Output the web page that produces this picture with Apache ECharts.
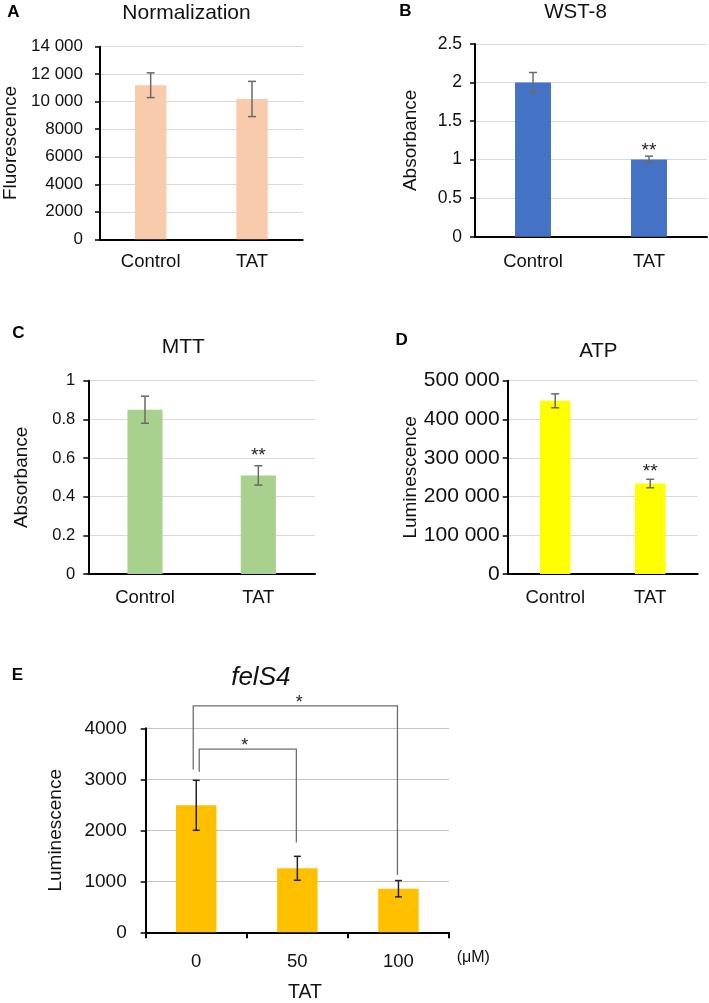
<!DOCTYPE html>
<html>
<head>
<meta charset="utf-8">
<script src="https://cdn.jsdelivr.net/npm/echarts@6/dist/echarts.min.js"></script>
<style>
html,body{margin:0;padding:0;background:#fff;}
#chart{width:709px;height:1003px;}
</style>
</head>
<body>
<div id="chart"></div>
<script>
// ---- data ----
const catsAB = ['Control', 'TAT'];
const normMean = [11200, 10200];
const normErr = [900, 1280];
const wstMean = [2.0, 1.0];
const wstErr = [0.13, 0.045];
const wstSig = ['', '**'];
const mttMean = [0.85, 0.51];
const mttErr = [0.07, 0.05];
const mttSig = ['', '**'];
const atpMean = [448000, 234000];
const atpErr = [18000, 11000];
const atpSig = ['', '**'];
const felCats = ['0', '50', '100'];
const felMean = [2490, 1255, 855];
const felErr = [490, 235, 160];
// [fromIndex, toIndex, topValue, leftBottomValue, rightBottomValue, mark]
const felBrackets = [
  [0, 2, 4440, 3190, 1130, '*'],
  [0, 1, 3590, 3150, 1760, '*']
];
const tickA = [0, 2000, 4000, 6000, 8000, 10000, 12000, 14000];
const tickD = [0, 100000, 200000, 300000, 400000, 500000];

const FONT = '"Liberation Sans", Arial, sans-serif';
const TXT = '#111';

function spaced(v) {
  if (Math.abs(v) < 10000) return String(v);
  return String(v).replace(/\B(?=(\d{3})+(?!\d))/g, ' ');
}
function plain(v) { return String(v); }

function errSeries(idx, mean, err, sig, color, capHalf, starGap) {
  return {
    type: 'custom',
    xAxisIndex: idx, yAxisIndex: idx,
    z: 10,
    clip: false,
    data: mean.map((m, i) => [i, m, err[i]]),
    renderItem: function (params, api) {
      const x = api.value(0), m = api.value(1), e = api.value(2);
      const top = api.coord([x, m + e]);
      const bot = api.coord([x, m - e]);
      const st = {stroke: color, lineWidth: 1.5};
      const children = [
        {type: 'line', shape: {x1: top[0], y1: top[1], x2: bot[0], y2: bot[1]}, style: st},
        {type: 'line', shape: {x1: top[0] - capHalf, y1: top[1], x2: top[0] + capHalf, y2: top[1]}, style: st},
        {type: 'line', shape: {x1: bot[0] - capHalf, y1: bot[1], x2: bot[0] + capHalf, y2: bot[1]}, style: st}
      ];
      const s = sig ? sig[params.dataIndex] : '';
      if (s) {
        children.push({type: 'text', style: {
          text: s, x: top[0], y: top[1] - starGap,
          textAlign: 'center', align: 'center',
          textVerticalAlign: 'middle', verticalAlign: 'middle',
          font: '19px ' + FONT, fill: '#222'
        }});
      }
      return {type: 'group', children: children};
    }
  };
}

function barSeries(idx, mean, color, width) {
  return {
    type: 'bar', xAxisIndex: idx, yAxisIndex: idx,
    data: mean, barWidth: width,
    itemStyle: {color: color},
    silent: true
  };
}

const grids = [
  {left: 98.7, top: 46.7, width: 204, height: 192.6},
  {left: 475, top: 44, width: 232, height: 192.7},
  {left: 88.3, top: 380.7, width: 226.7, height: 193.3},
  {left: 507.7, top: 380.7, width: 190, height: 193.3},
  {left: 145.7, top: 728.3, width: 303.3, height: 204}
];

function xAx(idx, cats, fs, margin, ticks) {
  return {
    type: 'category', gridIndex: idx, data: cats,
    axisLine: {lineStyle: {color: '#000', width: 2}},
    axisTick: {show: ticks, length: 6, alignWithLabel: false, lineStyle: {color: '#000', width: 2}},
    axisLabel: {fontSize: fs, color: TXT, fontFamily: FONT, margin: margin},
    splitLine: {show: false}
  };
}
function yAx(idx, min, max, interval, fs, margin, name, nameGap, fmt, gridColor) {
  return {
    type: 'value', gridIndex: idx, min: min, max: max, interval: interval,
    name: name, nameLocation: 'middle', nameGap: nameGap, nameRotate: 90,
    nameTextStyle: {fontSize: 19, color: TXT, fontFamily: FONT},
    axisLine: {show: true, lineStyle: {color: '#000', width: 2}},
    axisTick: {show: true, length: 5, lineStyle: {color: '#000', width: 1.5}},
    axisLabel: {fontSize: fs, color: TXT, fontFamily: FONT, margin: margin, formatter: fmt},
    splitLine: {show: true, lineStyle: {color: gridColor, width: 1.2}}
  };
}

const chart = echarts.init(document.getElementById('chart'), null, {renderer: 'canvas'});

function txt(text, x, y, size, opts) {
  opts = opts || {};
  return {
    type: 'text', x: x, y: y,
    style: {
      text: text,
      textAlign: opts.align || 'center', align: opts.align || 'center',
      textVerticalAlign: 'middle', verticalAlign: 'middle',
      font: (opts.style || '') + ' ' + (opts.weight || 'normal') + ' ' + size + 'px ' + FONT,
      fill: opts.color || TXT
    }
  };
}

const option = {
  animation: false,
  backgroundColor: '#fff',
  grid: grids,
  xAxis: [
    xAx(0, catsAB, 18.5, 13, false),
    xAx(1, catsAB, 18.5, 16, false),
    xAx(2, catsAB, 18.5, 14, false),
    xAx(3, catsAB, 18.5, 14, false),
    xAx(4, felCats, 18.5, 20, true)
  ],
  yAxis: [
    yAx(0, tickA[0], tickA[tickA.length - 1], tickA[1] - tickA[0], 17, 17, 'Fluorescence', 80, spaced, '#d9d9d9'),
    yAx(1, 0, 2.5, 0.5, 17.5, 13, 'Absorbance', 55, null, '#d9d9d9'),
    yAx(2, 0, 1, 0.2, 16.5, 13, 'Absorbance', 57, null, '#d9d9d9'),
    yAx(3, tickD[0], tickD[tickD.length - 1], tickD[1] - tickD[0], 21, 8, 'Luminescence', 87, spaced, '#d9d9d9'),
    yAx(4, 0, 4000, 1000, 19, 19, 'Luminescence', 80, plain, '#c4c4c4')
  ],
  series: [
    barSeries(0, normMean, '#F8CBAD', '31%'),
    errSeries(0, normMean, normErr, null, '#6a6a6a', 4, 0),
    barSeries(1, wstMean, '#4472C4', '31%'),
    errSeries(1, wstMean, wstErr, wstSig, '#6a6a6a', 4, 5),
    barSeries(2, mttMean, '#A9D18E', '31%'),
    errSeries(2, mttMean, mttErr, mttSig, '#6a6a6a', 4, 10),
    barSeries(3, atpMean, '#FFFF00', '32%'),
    errSeries(3, atpMean, atpErr, atpSig, '#6a6a6a', 4, 8),
    barSeries(4, felMean, '#FFC000', '40%'),
    errSeries(4, felMean, felErr, null, '#222', 3.5, 0),
    {
      type: 'custom', xAxisIndex: 4, yAxisIndex: 4, z: 12, clip: false,
      data: felBrackets.map(b => [b[0], b[1], b[2], b[3], b[4]]),
      renderItem: function (params, api) {
        const i0 = api.value(0), i1 = api.value(1);
        const topV = api.value(2), lb = api.value(3), rb = api.value(4);
        const big = (i1 - i0) > 1;
        const dx = big ? -3 : 3;
        const pTL = api.coord([i0, topV]);
        const pLB = api.coord([i0, lb]);
        const pTR = api.coord([i1, topV]);
        const pRB = api.coord([i1, rb]);
        const xl = pTL[0] + dx, xr = pTR[0] - 1;
        const st = {stroke: '#6e6e6e', lineWidth: 1.3, fill: 'none'};
        const mark = felBrackets[params.dataIndex][5];
        return {type: 'group', children: [
          {type: 'polyline', shape: {points: [[xl, pLB[1]], [xl, pTL[1]], [xr, pTR[1]], [xr, pRB[1]]]}, style: st},
          {type: 'text', style: {
            text: mark, x: (xl + xr) / 2 + (big ? 4 : -3), y: pTL[1] - 3,
            textAlign: 'center', align: 'center',
            textVerticalAlign: 'middle', verticalAlign: 'middle',
            font: '18px ' + FONT, fill: '#222'
          }}
        ]};
      }
    }
  ],
  graphic: [
    txt('A', 13.5, 12.5, 17, {weight: 'bold', color: '#000'}),
    txt('B', 405.5, 11.5, 17, {weight: 'bold', color: '#000'}),
    txt('C', 18.5, 333, 17, {weight: 'bold', color: '#000'}),
    txt('D', 401.7, 340.8, 17, {weight: 'bold', color: '#000'}),
    txt('E', 17.5, 675, 17, {weight: 'bold', color: '#000'}),
    txt('Normalization', 186.5, 13.5, 21),
    txt('WST-8', 575.5, 12, 20.5),
    txt('MTT', 183.3, 347.5, 21),
    txt('ATP', 598.3, 351.7, 20.5),
    txt('felS4', 260.8, 677.5, 26, {style: 'italic'}),
    txt('(μM)', 456.7, 957.7, 16, {align: 'left'}),
    txt('TAT', 305, 993, 19.5)
  ]
};
chart.setOption(option);
</script>
</body>
</html>
